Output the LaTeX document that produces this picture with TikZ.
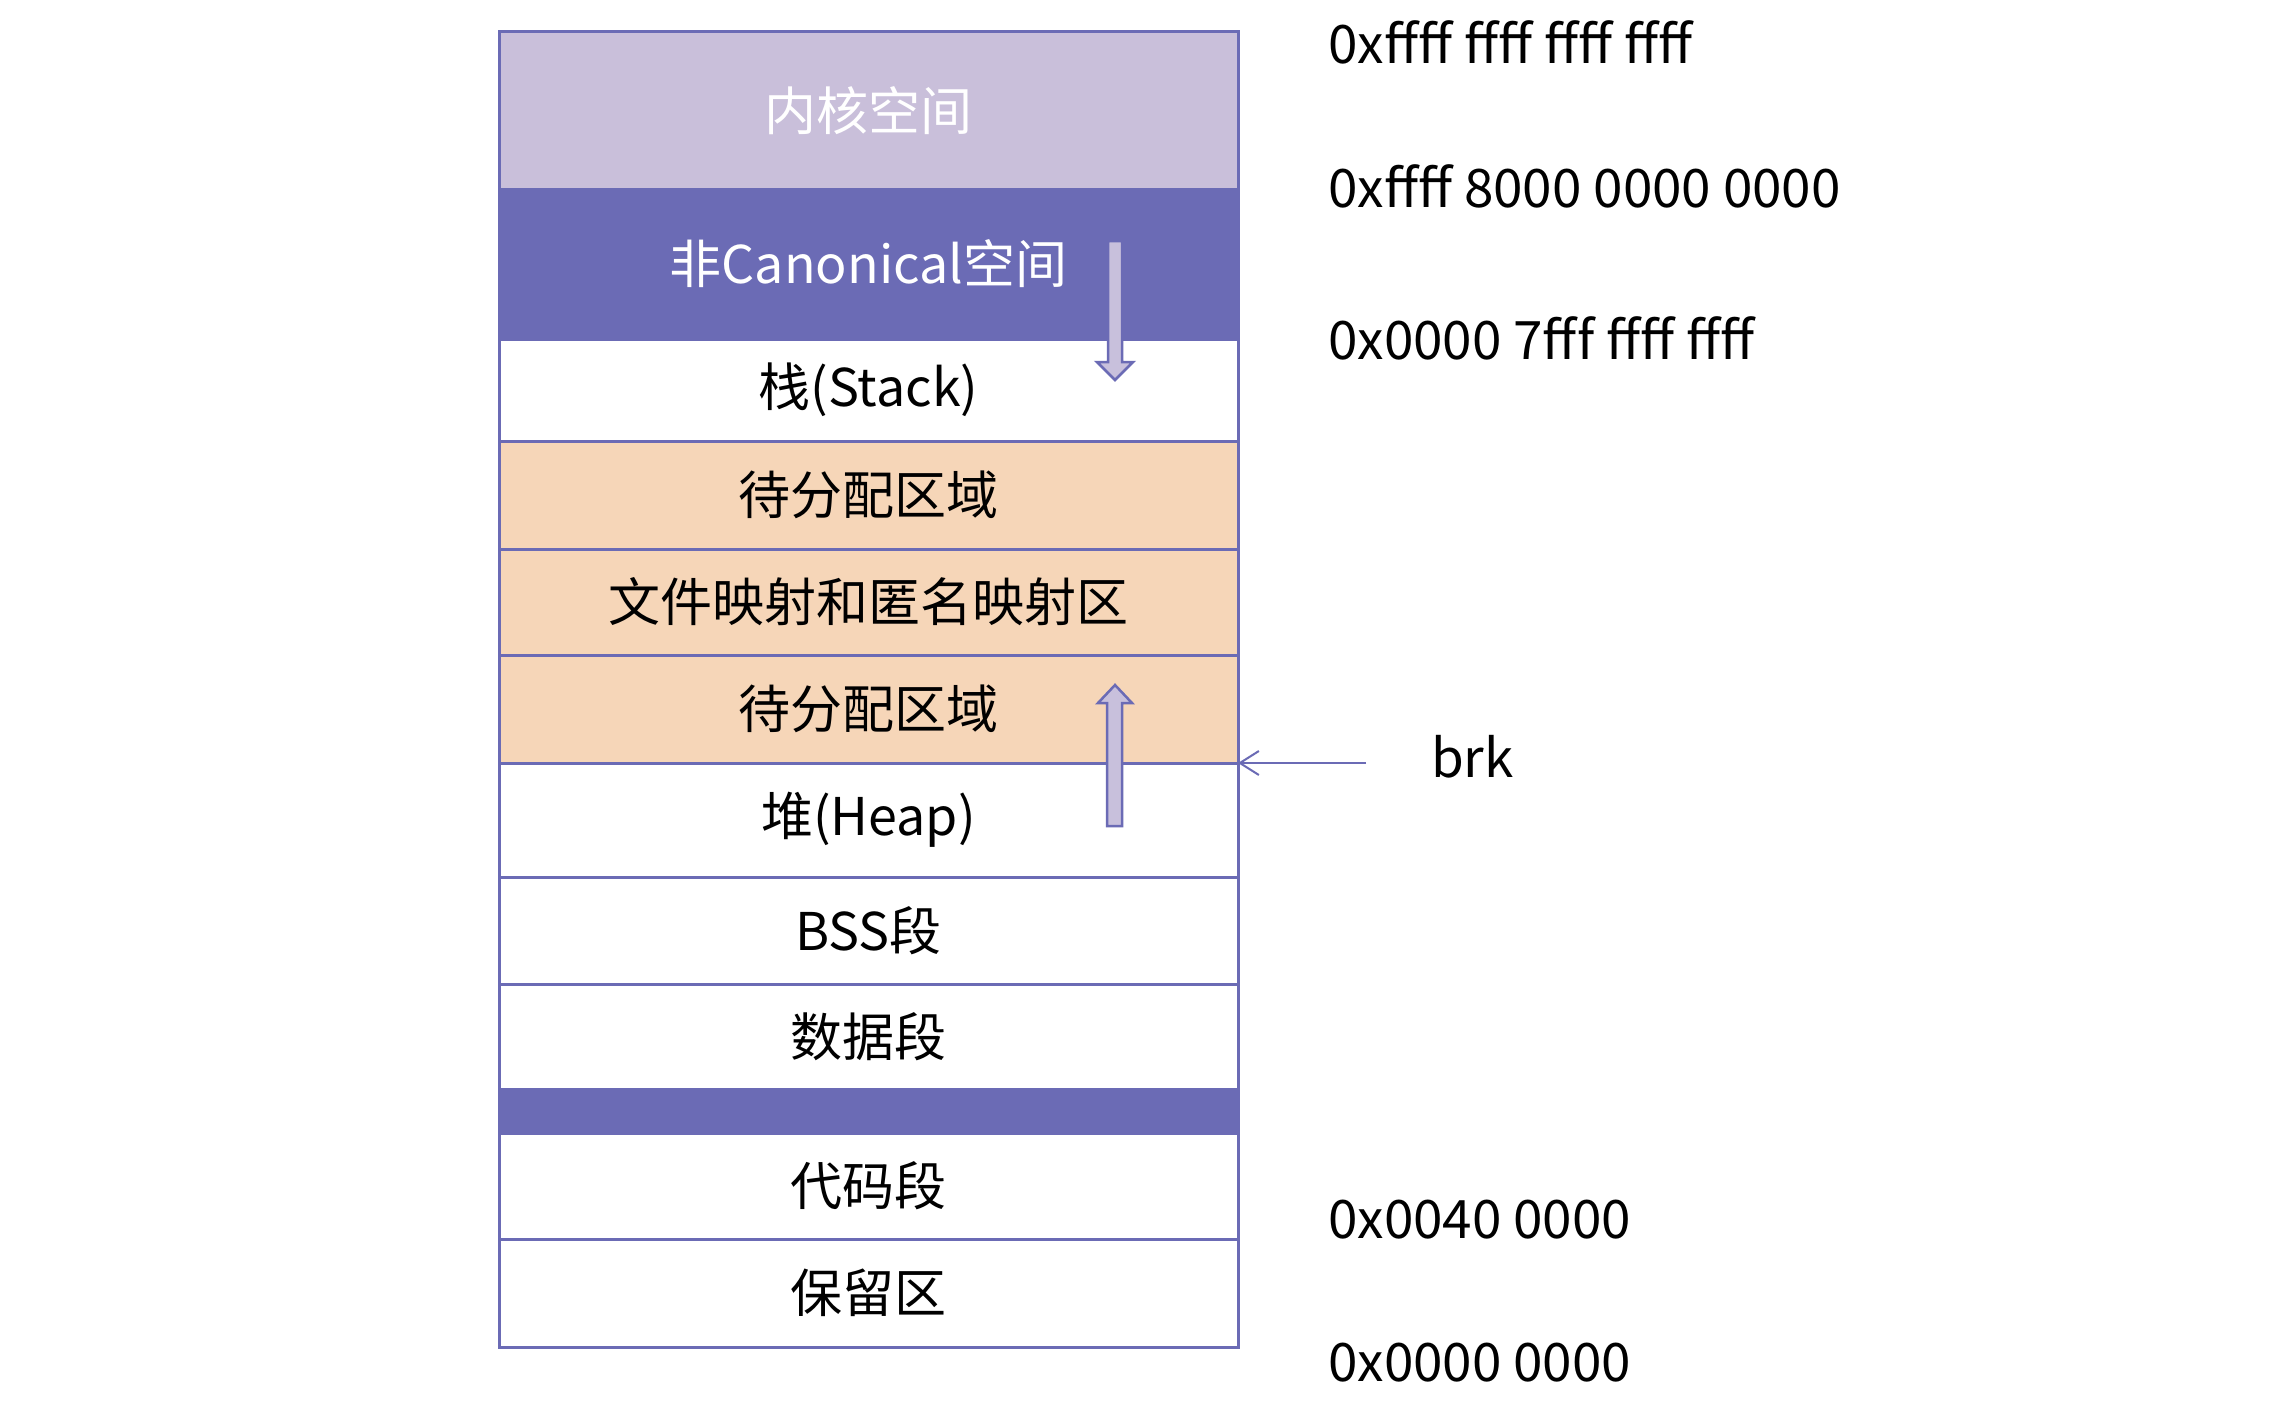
\documentclass[tikz,border=0pt]{standalone}
\usepackage{fontspec}
\setmainfont{Noto Sans CJK SC}
\usetikzlibrary{arrows.meta}
\definecolor{bord}{HTML}{6B6BB5}
\definecolor{kern}{HTML}{C9BFDA}
\definecolor{orng}{HTML}{F6D6B8}
\definecolor{arrfill}{HTML}{C8C0DC}
\begin{document}
\begin{tikzpicture}[x=1pt,y=-1pt,
  seg/.style={draw=bord, line width=3pt, minimum width=739pt, inner sep=0pt, outer sep=0pt,
    anchor=north west, font=\fontsize{52}{60}\selectfont, text=black},
  addr/.style={anchor=west, font=\fontsize{53}{60}\selectfont, inner sep=0pt, text=black},
  blockarrow/.style={fill=arrfill, draw=bord, line width=2.5pt, line join=miter}]
\useasboundingbox (0,0) rectangle (2283,1402);
\fill[white] (0,0) rectangle (2283,1402);
\node[seg, fill=kern, text=white, minimum height=157pt] (kernel) at (499,32) {内核空间};
\node[seg, fill=bord, text=white, minimum height=150pt] (noncanon) at (kernel.south west) {非Canonical空间};
\node[seg, fill=white, minimum height=102pt] (stack) at (noncanon.south west) {栈(Stack)};
\node[seg, fill=orng, minimum height=108pt] (unalloc1) at (stack.south west) {待分配区域};
\node[seg, fill=orng, minimum height=106pt] (filemap) at (unalloc1.south west) {文件映射和匿名映射区};
\node[seg, fill=orng, minimum height=108pt] (unalloc2) at (filemap.south west) {待分配区域};
\node[seg, fill=white, minimum height=114pt] (heap) at (unalloc2.south west) {堆(Heap)};
\node[seg, fill=white, minimum height=107pt] (bss) at (heap.south west) {BSS段};
\node[seg, fill=white, minimum height=105pt] (data) at (bss.south west) {数据段};
\node[seg, fill=bord, minimum height=44pt] (band) at (data.south west) {};
\node[seg, fill=white, minimum height=106pt] (code) at (band.south west) {代码段};
\node[seg, fill=white, minimum height=108pt] (reserved) at (code.south west) {保留区};
% address labels
\node[addr] (a1) at (1328,42) {0xffff ffff ffff ffff};
\node[addr] (a2) at (1328,186) {0xffff 8000 0000 0000};
\node[addr] (a3) at (1328,338) {0x0000 7fff ffff ffff};
\node[addr] (a4) at (1328,1220) {0x0040 0000};
\node[addr] (a5) at (1328,1363) {0x0000 0000};
% brk
\node[addr] (brk) at (1431,757) {brk};
\coordinate (brkstart) at (1366,763);
\draw[draw=bord, line width=2pt, -{Straight Barb[length=19pt,width=24pt,line width=2pt]}] (brkstart) -- (heap.north east);
% growth arrows
\draw[blockarrow] (1108,241) -- (1122,241) -- (1122,362) -- (1133,362) -- (1115,380) -- (1097,362) -- (1108,362) -- cycle;
\draw[blockarrow] (1107,826) -- (1122,826) -- (1122,703) -- (1132,703) -- (1115,685) -- (1098,703) -- (1107,703) -- cycle;
\end{tikzpicture}
\end{document}
